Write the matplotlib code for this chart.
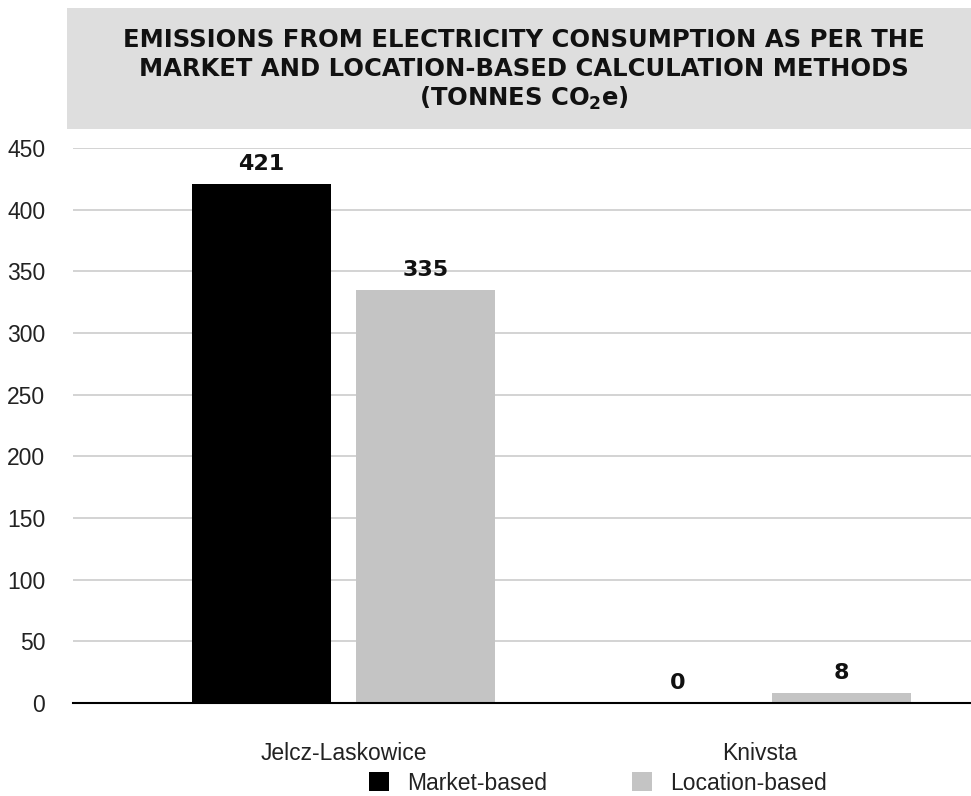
import matplotlib
matplotlib.use("Agg")
import matplotlib.pyplot as plt
from matplotlib.patches import Rectangle, Patch
import numpy as np

sites = ["Jelcz-Laskowice", "Knivsta"]
series_names = ["Market-based", "Location-based"]
market_based = [421, 0]
location_based = [335, 8]
y_ticks = [0, 50, 100, 150, 200, 250, 300, 350, 400, 450]

title_lines = [
    "EMISSIONS FROM ELECTRICITY CONSUMPTION AS PER THE",
    "MARKET AND LOCATION-BASED CALCULATION METHODS",
    r"(TONNES CO$_\mathbf{2}$e)",
]

colors = ["#000000", "#c4c4c4"]
W, H = 971, 796
fig = plt.figure(figsize=(W / 100, H / 100), dpi=100)
plt.rcParams["mathtext.fontset"] = "dejavusans"

# grey title band
fig.patches.append(Rectangle((67 / W, 1 - 129 / H), 1 - 67 / W, 121 / H,
                             transform=fig.transFigure, facecolor="#dedede",
                             edgecolor="none", zorder=0))
for i, line in enumerate(title_lines):
    fig.text(524 / W, 1 - (47 + 29.5 * i) / H, line, ha="center", va="baseline",
             fontsize=17.5, fontweight="bold", family="DejaVu Sans", color="#111111")

ax = fig.add_axes([73 / W, 1 - 703 / H, 1 - 73 / W, (703 - 148) / H])
x = np.arange(len(sites))
bw = 0.334
off = 0.197
bars = [ax.bar(x - off, market_based, bw, color=colors[0], zorder=3),
        ax.bar(x + off, location_based, bw, color=colors[1], zorder=3)]

for b in bars:
    for rect in b:
        h = rect.get_height()
        ax.annotate(f"{h:.0f}", (rect.get_x() + rect.get_width() / 2, h),
                    xytext=(0, 7), textcoords="offset points", ha="center",
                    va="bottom", fontsize=16, fontweight="bold",
                    family="DejaVu Sans", color="#111111")

ax.set_ylim(0, 450)
ax.set_xlim(-0.650, 1.508)
ax.set_yticks(y_ticks)
ax.set_xticks(x)
ax.set_xticklabels(sites)
ax.tick_params(axis="both", length=0, labelsize=16.5, colors="#222222")
ax.tick_params(axis="y", pad=20)
ax.tick_params(axis="x", pad=28)
for lbl in ax.get_xticklabels() + ax.get_yticklabels():
    lbl.set_family("Liberation Sans")
ax.grid(axis="y", color="#cccccc", linewidth=1.2, zorder=0)
for s in ["top", "right", "left"]:
    ax.spines[s].set_visible(False)
ax.spines["bottom"].set_color("#000000")
ax.spines["bottom"].set_linewidth(1.5)
ax.spines["bottom"].set_zorder(4)

handles = [Patch(facecolor=c, edgecolor="none") for c in colors]
fig.legend(handles, series_names, loc="center", bbox_to_anchor=(598 / W, 1 - 783 / H),
           ncol=2, frameon=False, prop={"family": "Liberation Sans", "size": 16.5},
           handlelength=0.85, handleheight=0.85, handletextpad=0.8, columnspacing=3.7,
           labelcolor="#222222", borderpad=0.2)

fig.savefig("out.png", dpi=100)
